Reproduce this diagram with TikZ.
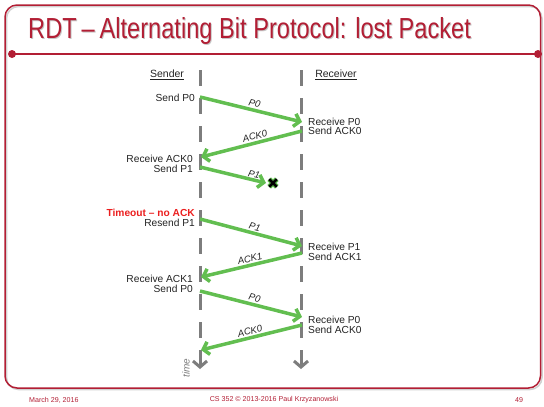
\documentclass[tikz,border=0pt]{standalone}
\usepackage{fontspec}
\setmainfont{Liberation Sans}
\newfontfamily\titlefont[FakeStretch=0.815]{Liberation Sans}
\usetikzlibrary{arrows.meta,calc}
\definecolor{slidered}{RGB}{178,30,52}
\definecolor{msggreen}{RGB}{98,190,80}
\definecolor{lifegrey}{RGB}{125,125,125}
\definecolor{alertred}{RGB}{235,30,30}
\definecolor{textgrey}{RGB}{35,35,35}
\begin{document}
\begin{tikzpicture}[x=1pt,y=-1pt,
  lifeline/.style={lifegrey, line width=3pt, dash pattern=on 16pt off 12pt},
  lifeend/.style={lifegrey, line width=3pt, -{Straight Barb[length=6pt,width=14pt]}},
  msg/.style={msggreen, line width=3.5pt, -{Straight Barb[length=5.5pt,width=13pt]}},
  lbl/.style={font=\fontsize{10.2}{9.8}\selectfont, text=textgrey, inner sep=0pt},
  leftlbl/.style={lbl, anchor=east, align=right},
  rightlbl/.style={lbl, anchor=west, align=left},
  msglbl/.style={font=\fontsize{9.5}{10}\selectfont\itshape, text=textgrey, sloped, above, inner sep=1.5pt},
  head/.style={font=\fontsize{10.5}{12}\selectfont, text=textgrey, inner sep=0pt},
  foot/.style={font=\fontsize{7.1}{8}\selectfont, text=slidered, inner sep=0pt},
  titletext/.style={anchor=base west, inner sep=0pt, font=\titlefont\fontsize{29}{29}\selectfont}
]
\useasboundingbox (0,0) rectangle (544,407);

% slide frame with a faint shadow
\draw[black!18, line width=1.5pt, rounded corners=12pt] (6.5,6.5) rectangle (542,389.5);
\draw[slidered, line width=1.5pt, rounded corners=12pt] (5,5) rectangle (540.5,388);
\coordinate (ruleL) at (12,54);
\coordinate (ruleR) at (538,54);
\draw[slidered, line width=2pt] (ruleL) -- (ruleR);
\fill[slidered] (ruleL) circle (4pt) (ruleR) circle (4pt);
\node[titletext, text=black!22] (titleshadow) at (29,39)
  {RDT\,–\,Alternating Bit Protocol: lost Packet};
\node[titletext, text=slidered] (title) at (28,38)
  {RDT\,–\,Alternating Bit Protocol: lost Packet};

% lifelines
\coordinate (sTop) at (200,70);
\coordinate (sMid) at (200,338);
\coordinate (sEnd0) at (200,350);
\coordinate (sEnd) at (200,369);
\coordinate (rTop) at (301,70);
\coordinate (rMid) at (301,338);
\coordinate (rEnd0) at (301,350);
\coordinate (rEnd) at (301,369);
\draw[lifeline] (sTop) -- (sMid);
\draw[lifeline] (rTop) -- (rMid);
\draw[lifeend] (sEnd0) -- (sEnd);
\draw[lifeend] (rEnd0) -- (rEnd);

\node[head] (sender) at (167,75) {\underline{Sender}};
\node[head] (receiver) at (336,75) {\underline{Receiver}};
\node[font=\fontsize{10}{10}\selectfont\itshape, text=lifegrey, rotate=90, inner sep=0pt] (time) at (186,368) {time};

% message end points
\coordinate (a1) at (200,97);   \coordinate (b1) at (302,122);
\coordinate (a2) at (302,131);  \coordinate (b2) at (201,157);
\coordinate (a3) at (200,167);  \coordinate (b3) at (266,183);
\coordinate (a4) at (200,219);  \coordinate (b4) at (302,246);
\coordinate (a5) at (302,253);  \coordinate (b5) at (201,277);
\coordinate (a6) at (200,291);  \coordinate (b6) at (302,317);
\coordinate (a7) at (302,325);  \coordinate (b7) at (201,350);

\draw[msg] (a1) -- node[msglbl, pos=0.52] (l1) {P0} (b1);
\draw[msg] (a2) -- node[msglbl, pos=0.45] (l2) {ACK0} (b2);
\draw[msg] (a3) -- node[msglbl, pos=0.8, inner sep=0.3pt] (l3) {P1} (b3);
\draw[msg] (a4) -- node[msglbl, pos=0.52] (l4) {P1} (b4);
\draw[msg] (a5) -- node[msglbl, pos=0.5] (l5) {ACK1} (b5);
\draw[msg] (a6) -- node[msglbl, pos=0.52] (l6) {P0} (b6);
\draw[msg] (a7) -- node[msglbl, pos=0.5] (l7) {ACK0} (b7);

% lost packet mark: black cross with a green rim
\coordinate (lost) at (273,183);
\draw[msggreen, line width=5pt] ($(lost)+(-3.8,-3.8)$) -- ($(lost)+(3.8,3.8)$)
  ($(lost)+(-3.8,3.8)$) -- ($(lost)+(3.8,-3.8)$);
\draw[black, line width=2.6pt] ($(lost)+(-3.8,-3.8)$) -- ($(lost)+(3.8,3.8)$)
  ($(lost)+(-3.8,3.8)$) -- ($(lost)+(3.8,-3.8)$);

% sender side notes
\node[leftlbl] (n1) at (195,98) {Send P0};
\node[leftlbl] (n2) at (193,163.8) {Receive ACK0\\Send P1};
\node[leftlbl] (n3) at (195,217.5) {\textcolor{alertred}{\textbf{Timeout – no ACK}}\\Resend P1};
\node[leftlbl] (n4) at (193,284.2) {Receive ACK1\\Send P0};
% receiver side notes
\node[rightlbl] (m1) at (308,126.4) {Receive P0\\Send ACK0};
\node[rightlbl] (m2) at (308,251.6) {Receive P1\\Send ACK1};
\node[rightlbl] (m3) at (308,325) {Receive P0\\Send ACK0};

% footer
\node[foot, anchor=west] (date) at (29,400) {March 29, 2016};
\node[foot] (course) at (274,400) {CS 352 © 2013-2016 Paul Krzyzanowski};
\node[foot] (page) at (519,400) {49};
\end{tikzpicture}
\end{document}
